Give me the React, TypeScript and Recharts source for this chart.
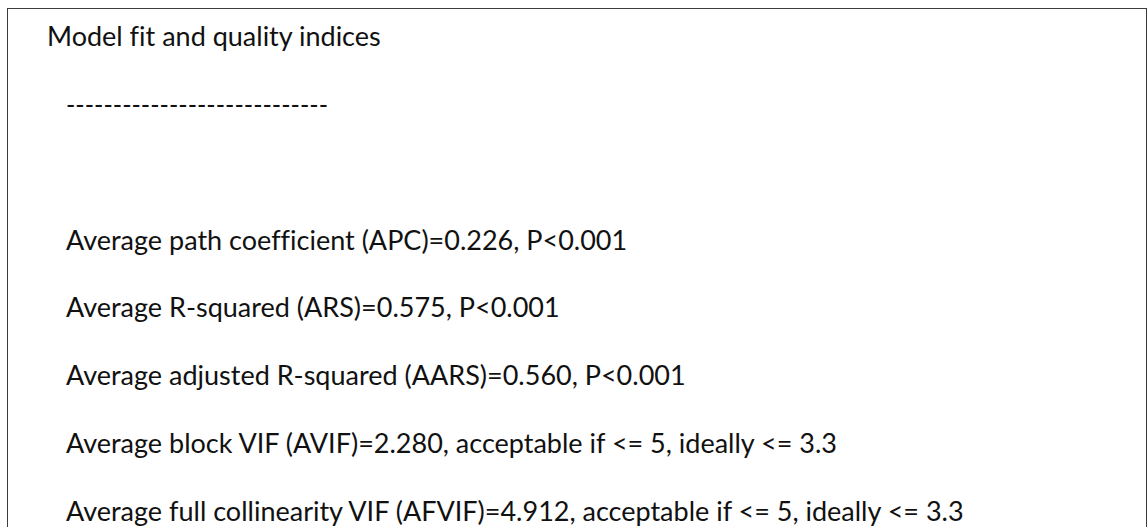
import React from 'react';
import { ScatterChart, Scatter, XAxis, YAxis } from 'recharts';

// rows of the printed output, top to bottom (blank row keeps the gap)
const rowIndex = [0, 1, 2, 3, 4, 5, 6, 7];
const rowText = [
  'Model fit and quality indices',
  '----------------------------',
  '',
  'Average path coefficient (APC)=0.226, P<0.001',
  'Average R-squared (ARS)=0.575, P<0.001',
  'Average adjusted R-squared (AARS)=0.560, P<0.001',
  'Average block VIF (AVIF)=2.280, acceptable if <= 5, ideally <= 3.3',
  'Average full collinearity VIF (AFVIF)=4.912, acceptable if <= 5, ideally <= 3.3',
];

const data = rowIndex.map((row, i) => ({ col: 0, row, text: rowText[i] }));

const W = 1148;
const H = 527;

const TextRow = (props: any) => {
  const { cx, cy, payload } = props;
  if (!payload.text) return <g />;
  const indent = payload.row === 0 ? 47 : 66;
  const isRule = /^-+$/.test(payload.text);
  return (
    <text
      x={cx + indent}
      y={cy}
      fill="#111"
      fontFamily="Lato, 'Open Sans', sans-serif"
      fontSize={27}
      style={{ fontVariantLigatures: 'none' }}
      {...(isRule ? { textLength: 262, lengthAdjust: 'spacingAndGlyphs' } : {})}
    >
      {payload.text}
    </text>
  );
};

export default function App() {
  return (
    <div style={{ position: 'fixed', left: 0, top: 0, width: W, height: H, overflow: 'hidden', background: '#fff' }}>
      <div
        style={{
          position: 'absolute',
          left: 7,
          top: 8,
          width: W - 7 - 1,
          height: H + 20,
          border: '1.5px solid #3c3c3c',
          borderBottom: 'none',
          boxSizing: 'border-box',
        }}
      />
      <div style={{ position: 'absolute', left: 0, top: 0 }}>
        <ScatterChart width={W} height={H} data={data} margin={{ top: 46, right: 0, bottom: 6, left: 0 }}>
          <XAxis type="number" dataKey="col" domain={[0, 1]} hide />
          <YAxis type="number" dataKey="row" domain={[0, 7]} reversed hide />
          <Scatter data={data} shape={TextRow} isAnimationActive={false} />
        </ScatterChart>
      </div>
    </div>
  );
}
